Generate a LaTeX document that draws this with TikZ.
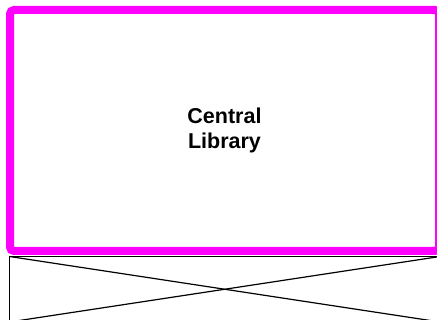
\documentclass[tikz,border=0pt]{standalone}
\usepackage{fontspec}
\setmainfont{Liberation Sans}
\begin{document}
\begin{tikzpicture}[x=1pt,y=-1pt,
  libbox/.style={draw=magenta,line width=8pt,rounded corners=4pt,fill=white,
    minimum width=429pt,minimum height=241pt,inner sep=0pt,outer sep=0pt,
    align=center,font=\fontsize{21.5}{25.5}\selectfont\bfseries},
  imgbox/.style={draw=black,line width=1.1pt,minimum width=430.5pt,minimum height=65.5pt,
    inner sep=0pt,outer sep=0pt},
  crossline/.style={draw=black,line width=1.2pt}]
\useasboundingbox (0,0) rectangle (437,320);
\clip (0,0) rectangle (437,320);
\definecolor{magenta}{RGB}{255,0,255}
\node[imgbox] (img) at (224.75,289.25) {};
\draw[crossline] (img.north west) -- (img.south east);
\draw[crossline] (img.south west) -- (img.north east);
\node[libbox] (lib) at (224.5,130.5) {Central\\Library};
\end{tikzpicture}
\end{document}
